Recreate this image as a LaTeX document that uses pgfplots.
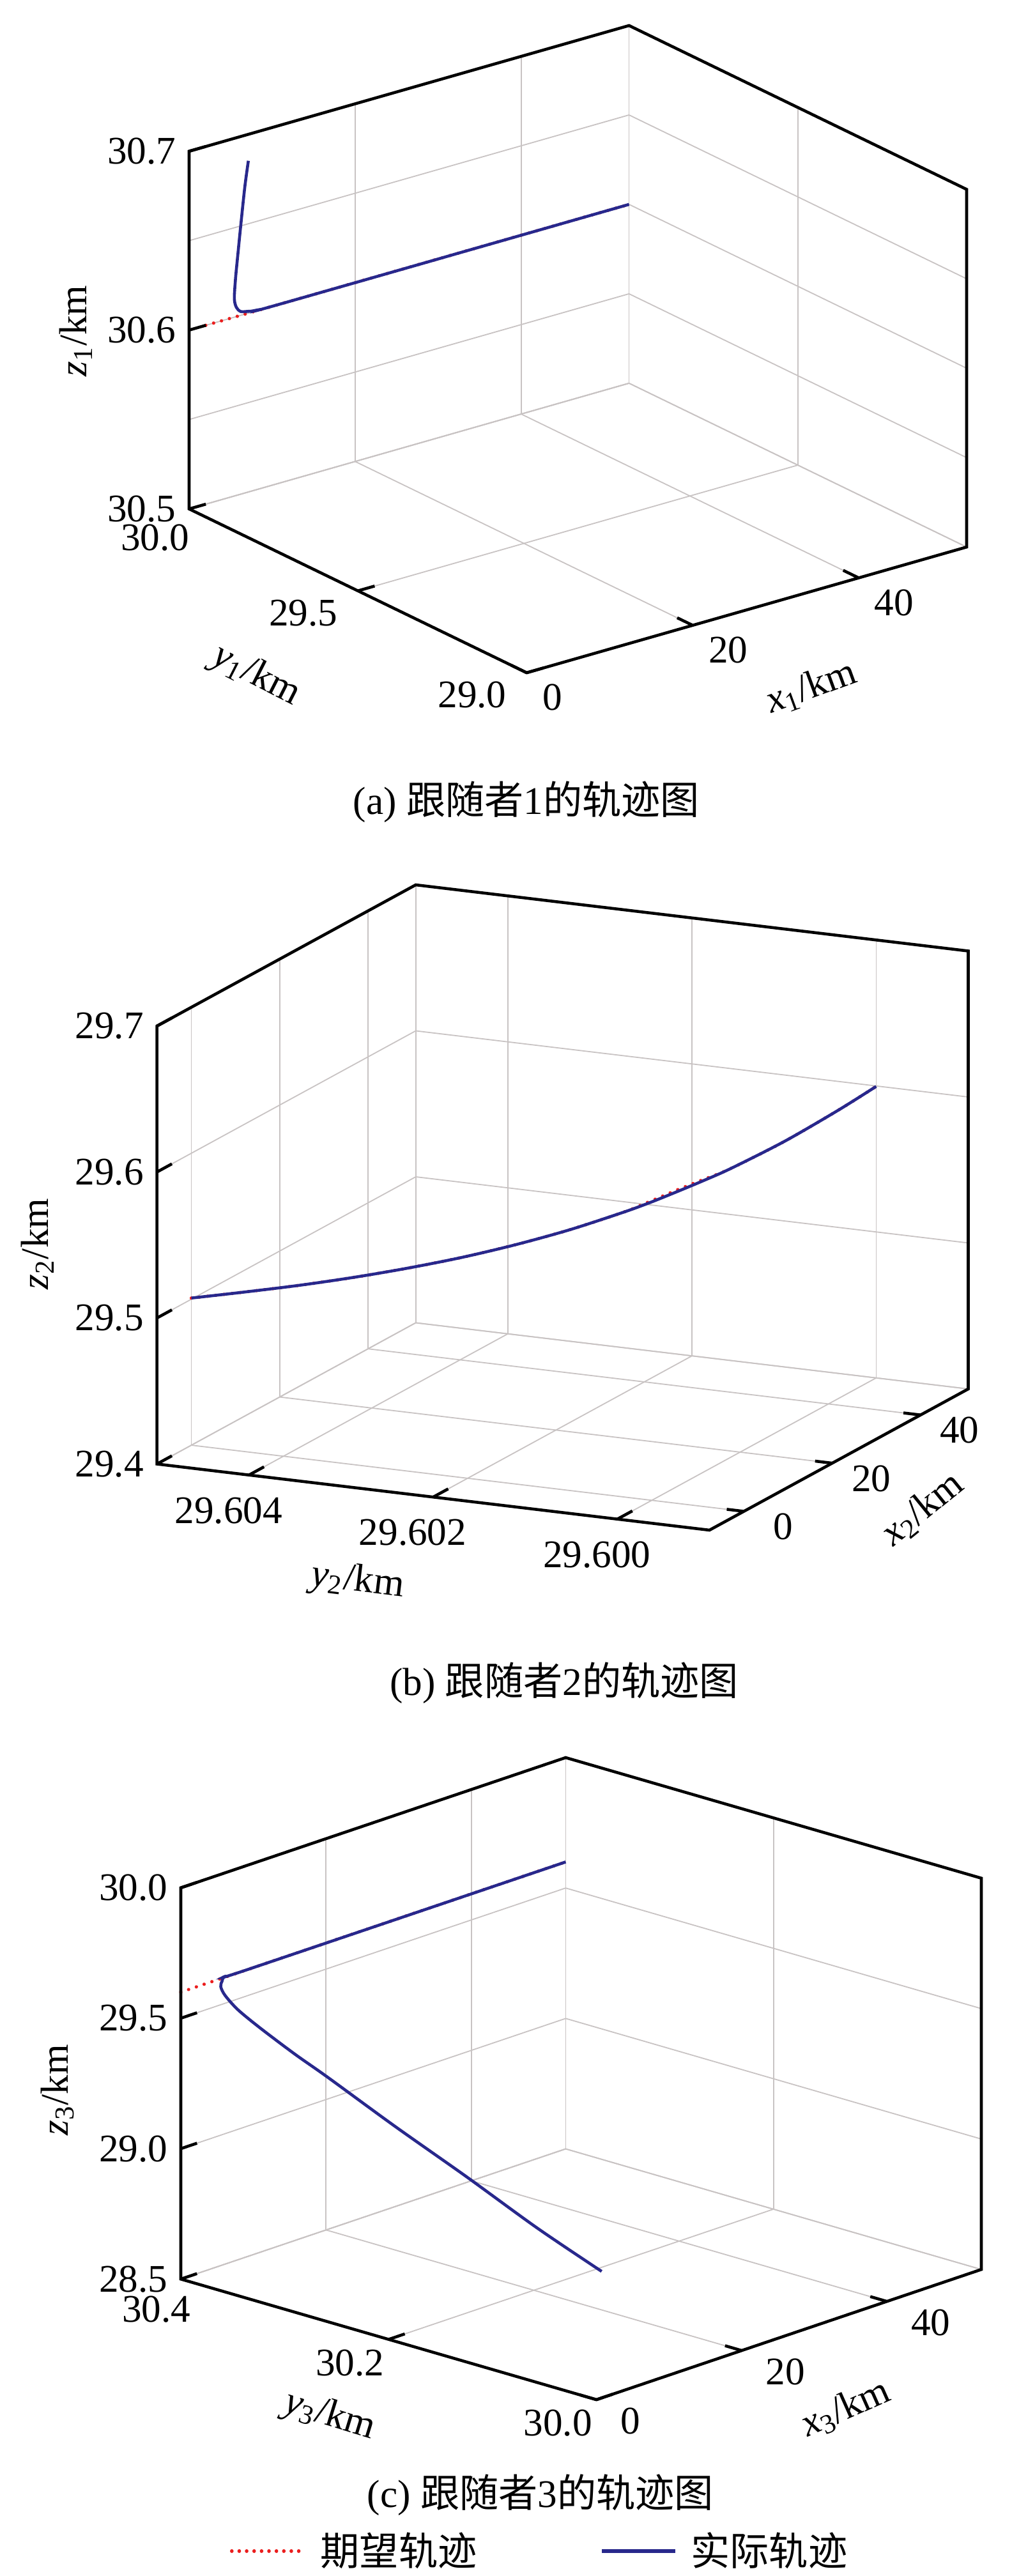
\documentclass[border=0pt]{standalone}
\usepackage{fontspec}
\setmainfont{Liberation Serif}
\newfontfamily\cjk{Noto Sans CJK SC}
\usepackage{xfp}
\usepackage{pgfplots}
\pgfplotsset{compat=1.18}
\usepackage{pgfplotstable}

\definecolor{actual}{RGB}{40,40,140}
\definecolor{desired}{RGB}{235,30,30}
\definecolor{gridc}{RGB}{200,195,195}

\newcommand{\fs}{\fontsize{15.3}{18}\selectfont}

\tikzset{tickmark/.style={black, line width=1.15pt}}

\pgfplotsset{
  traj3d/.style={
    scale only axis,
    anchor=north west,
    grid=major,
    major grid style={gridc, line width=0.45pt},
    minor grid style={gridc, line width=0.45pt},
    axis line style={gridc, line width=0.45pt},
    tick style={draw=none},
    major tick length=0pt,
    minor tick length=0pt,
    tick label style={font=\fs, inner sep=0pt},
    zticklabel style={anchor=east, xshift=-5pt},
    /pgf/number format/assume math mode=true,
    scaled ticks=false,
    clip=false,
  },
  desiredline/.style={desired, line width=1.3pt, line cap=round, dash pattern=on 0.01pt off 3.2pt},
  actualline/.style={actual, line width=1.15pt},
}

\newcommand{\silhouette}{%
  \draw[black, line width=1.15pt, line join=miter]
    (rel axis cs:0,1,0) -- (rel axis cs:0,1,1) -- (rel axis cs:1,1,1) --
    (rel axis cs:1,0,1) -- (rel axis cs:1,0,0) -- (rel axis cs:0,0,0) -- cycle;}

\begin{document}
\begin{tikzpicture}
\useasboundingbox (0pt,0pt) rectangle (404.75pt,-1008pt);

% ---------------- (a) ----------------
\begin{axis}[traj3d,
  at={(74pt,-10pt)}, width=304.25pt, height=253.25pt,
  view={-37.5}{30},
  xmin=0, xmax=53, ymin=29, ymax=30, zmin=30.5, zmax=30.7,
  xtick={0,20,40}, ytick={29,29.5,30}, ztick={30.5,30.6,30.7},
  yticklabels={29.0,29.5,\raisebox{-2.5pt}[\height][\depth]{30.0\hspace*{-8pt}}},
  minor ztick={30.55,30.65}, zminorgrids=true,
  xticklabel style={anchor=north west, xshift=6pt, yshift=-4.25pt},
  yticklabel style={anchor=north east, xshift=-7.75pt, yshift=-3.25pt},
  zticklabel style={/pgf/number format/.cd, fixed, fixed zerofill, precision=1},
]
\addplot3[desiredline] table {
x y z
2 30 30.6
53 30 30.6
};
\addplot3[actualline, smooth] table {
x y z
7.14 30 30.6852
6.71 30 30.6711
6.20 30 30.6493
5.86 30 30.6339
5.59 30 30.6213
5.45 30 30.6104
5.69 30 30.6052
6.20 30 30.6022
7.07 30 30.6011
8.10 30 30.6004
12 30 30.6
53 30 30.6
};
\silhouette
\draw[tickmark]
  (rel axis cs:0,0,0) -- (rel axis cs:0,0.046,0)
  (rel axis cs:0.37736,0,0) -- (rel axis cs:0.37736,0.046,0)
  (rel axis cs:0.75472,0,0) -- (rel axis cs:0.75472,0.046,0)
  (rel axis cs:0,0,0) -- (rel axis cs:0.038,0,0)
  (rel axis cs:0,0.5,0) -- (rel axis cs:0.038,0.5,0)
  (rel axis cs:0,1,0) -- (rel axis cs:0.038,1,0)
  (rel axis cs:0,1,0.5) -- (rel axis cs:0.038,1,0.5)
  (rel axis cs:0,1,1) -- (rel axis cs:0.038,1,1);
\end{axis}

% ---------------- (b) ----------------
\begin{axis}[traj3d,
  at={(61.4pt,-346.25pt)}, width=317.5pt, height=252.5pt,
  view={-64.9}{19.6},
  y coord trafo/.code={\edef\pgfmathresult{\fpeval{(#1-29.6)*1000}}},
  xmin=-7.8, xmax=50.8, ymin=29.599, ymax=29.605, zmin=29.4, zmax=29.7,
  xtick={0,20,40}, ytick={29.600,29.602,29.604}, ztick={29.4,29.5,29.6,29.7},
  yticklabels={29.600,29.602,29.604},
  xticklabel style={anchor=center, xshift=15.25pt, yshift=-6pt},
  yticklabel style={anchor=north, xshift=-8pt, yshift=-8.5pt},
  zticklabel style={/pgf/number format/.cd, fixed, fixed zerofill, precision=1},
]
\addplot3[desiredline, smooth] table {
x y z
0 29.60500 29.5008
4 29.60461 29.5013
8 29.60421 29.5023
12 29.60382 29.5040
16 29.60343 29.5066
20 29.60303 29.5104
24 29.60264 29.5154
28 29.60224 29.5221
32 29.60185 29.5304
34 29.60165 29.5362
36 29.60146 29.5420
38 29.60126 29.5476
40 29.60106 29.5533
44 29.60067 29.5682
48 29.60028 29.5858
50.8 29.60000 29.5997
};
\addplot3[actualline, smooth] table {
x y z
0 29.60500 29.5008
4 29.60461 29.5013
8 29.60421 29.5023
12 29.60382 29.5040
16 29.60343 29.5066
20 29.60303 29.5104
24 29.60264 29.5154
28 29.60224 29.5221
32 29.60185 29.5304
34 29.60165 29.5354
36 29.60146 29.5408
38 29.60126 29.5468
40 29.60106 29.5533
44 29.60067 29.5682
48 29.60028 29.5858
50.8 29.60000 29.5997
};
\silhouette
\draw[tickmark]
  (rel axis cs:0.13311,0,0) -- (rel axis cs:0.13311,0.031,0)
  (rel axis cs:0.47440,0,0) -- (rel axis cs:0.47440,0.031,0)
  (rel axis cs:0.81570,0,0) -- (rel axis cs:0.81570,0.031,0)
  (rel axis cs:0,0.16667,0) -- (rel axis cs:0.058,0.16667,0)
  (rel axis cs:0,0.5,0) -- (rel axis cs:0.058,0.5,0)
  (rel axis cs:0,0.83333,0) -- (rel axis cs:0.058,0.83333,0)
  (rel axis cs:0,1,0) -- (rel axis cs:0.058,1,0)
  (rel axis cs:0,1,0.33333) -- (rel axis cs:0.058,1,0.33333)
  (rel axis cs:0,1,0.66667) -- (rel axis cs:0.058,1,0.66667)
  (rel axis cs:0,1,1) -- (rel axis cs:0.058,1,1);
\end{axis}

% ---------------- (c) ----------------
\begin{axis}[traj3d,
  at={(70.75pt,-687.75pt)}, width=313.25pt, height=251.25pt,
  view={-47.2}{24.4},
  xmin=0, xmax=53, ymin=30, ymax=30.4, zmin=28.5, zmax=30,
  xtick={0,20,40}, ytick={30,30.2,30.4}, ztick={28.5,29,29.5,30},
  yticklabels={30.0,30.2,\raisebox{-2.75pt}[\height][\depth]{30.4\hspace*{-5.5pt}}},
  xticklabel style={anchor=north west, xshift=9.25pt, yshift=-3pt},
  yticklabel style={anchor=north east, xshift=-1.5pt, yshift=-3.75pt},
  zticklabel style={/pgf/number format/.cd, fixed, fixed zerofill, precision=1},
]
\addplot3[desiredline] table {
x y z
0 30.4 29.6
53 30.4 29.6
};
\addplot3[actualline, smooth] table {
x y z
0 29.995 28.9976
0.6 30.0610 29.0813
1.3 30.1345 29.1880
2.0 30.2081 29.2892
2.6 30.2768 29.3916
2.9 30.3104 29.4383
3.2 30.3455 29.4939
3.5 30.3695 29.5349
3.8 30.3840 29.5705
4.1 30.3902 29.5937
4.5 30.3917 29.6097
6.0 30.3986 29.6062
9.8 30.4 29.6
53 30.4 29.6
};
\silhouette
\draw[tickmark]
  (rel axis cs:0,0,0) -- (rel axis cs:0,0.040,0)
  (rel axis cs:0.37736,0,0) -- (rel axis cs:0.37736,0.040,0)
  (rel axis cs:0.75472,0,0) -- (rel axis cs:0.75472,0.040,0)
  (rel axis cs:0,0,0) -- (rel axis cs:0.042,0,0)
  (rel axis cs:0,0.5,0) -- (rel axis cs:0.042,0.5,0)
  (rel axis cs:0,1,0) -- (rel axis cs:0.042,1,0)
  (rel axis cs:0,1,0.33333) -- (rel axis cs:0.042,1,0.33333)
  (rel axis cs:0,1,0.66667) -- (rel axis cs:0.042,1,0.66667)
  (rel axis cs:0,1,1) -- (rel axis cs:0.042,1,1);
\end{axis}

% axis labels
\begin{scope}[every node/.style={font=\fs, inner sep=0pt}]
\node[rotate=90]  at (29.75pt,-129.5pt) {\textit{z}\textsubscript{1}/km};
\node[rotate=-27] at (100.25pt,-264.5pt) {\textit{y}\textsubscript{1}/km};
\node[rotate=20]  at (317.5pt,-269pt) {\textit{x}\textsubscript{1}/km};
\node[rotate=90]  at (14.75pt,-486.75pt) {\textit{z}\textsubscript{2}/km};
\node[rotate=-7]  at (140pt,-619pt) {\textit{y}\textsubscript{2}/km};
\node[rotate=39]  at (361pt,-590.5pt) {\textit{x}\textsubscript{2}/km};
\node[rotate=90]  at (22.5pt,-817.75pt) {\textit{z}\textsubscript{3}/km};
\node[rotate=-17] at (129pt,-945.5pt) {\textit{y}\textsubscript{3}/km};
\node[rotate=24]  at (331pt,-942.5pt) {\textit{x}\textsubscript{3}/km};
% captions
\node at (206pt,-313.9pt) {(a) {\cjk 跟随者}1{\cjk 的轨迹图}};
\node at (220.75pt,-658.5pt) {(b) {\cjk 跟随者}2{\cjk 的轨迹图}};
\node at (211.5pt,-976.25pt) {(c) {\cjk 跟随者}3{\cjk 的轨迹图}};
\end{scope}

% legend
\begin{axis}[hide axis, scale only axis, width=10pt, height=10pt,
  at={(90pt,-998.25pt)}, anchor=west,
  xmin=0, xmax=1, ymin=0, ymax=1,
  legend style={at={(0,0.5)}, anchor=west, draw=none, fill=none,
    legend columns=2, font=\fs, inner sep=0pt, outer sep=0pt,
    nodes={inner sep=0pt},
    /tikz/every odd column/.append style={column sep=5.25pt},
    /tikz/every even column/.append style={column sep=48.25pt}},
  legend cell align=left,
  legend image code/.code={\draw[#1] (0pt,0pt) -- (28.75pt,0pt);},
]
\addlegendimage{desiredline, line width=1.4pt, dash pattern=on 0.01pt off 2.9pt}
\addlegendentry{\cjk 期望轨迹}
\addlegendimage{actualline, line width=1.5pt}
\addlegendentry{\cjk 实际轨迹}
\end{axis}
\end{tikzpicture}
\end{document}
